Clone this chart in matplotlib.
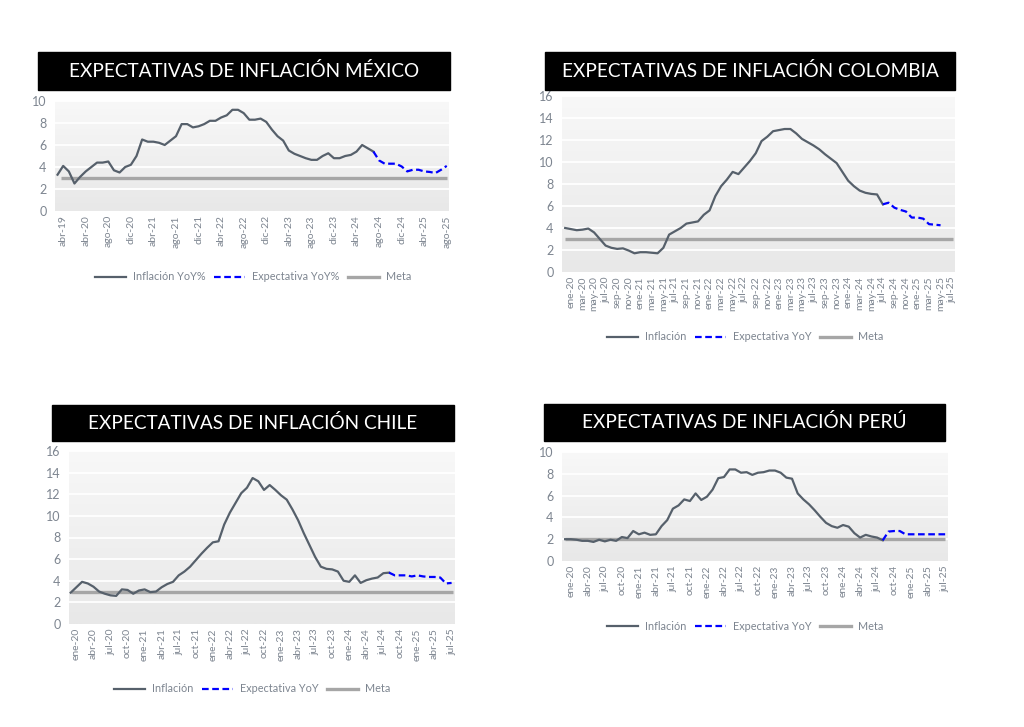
import matplotlib.pyplot as plt
import numpy as np
from matplotlib.patches import Rectangle
from matplotlib.lines import Line2D

plt.rcParams['font.family'] = ['Lato', 'DejaVu Sans']

W, H = 1024, 727

# ---------------- datos ----------------
# México (índice 0 = mes previo a abr-19)
mx_inflacion = [3.3, 4.1, 3.6, 2.5, 3.1, 3.6, 4.0, 4.4, 4.4, 4.5, 3.7, 3.5, 4.0, 4.2, 5.0,
                6.5, 6.3, 6.3, 6.2, 6.0, 6.4, 6.8, 7.9, 7.9, 7.6, 7.7, 7.9, 8.2, 8.2, 8.5,
                8.7, 9.2, 9.2, 8.9, 8.3, 8.3, 8.4, 8.1, 7.4, 6.8, 6.4, 5.5, 5.2, 5.0, 4.8,
                4.65, 4.65, 5.0, 5.25, 4.8, 4.8, 5.0, 5.1, 5.4, 6.0, 5.7, 5.4]
mx_expectativa = [5.4, 4.6, 4.3, 4.3, 4.3, 4.05, 3.6, 3.75, 3.75, 3.6, 3.55, 3.45, 3.75, 4.1]
mx_meta = 3
mx_ticks = ["abr-19", "abr-20", "ago-20", "dic-20", "abr-21", "ago-21", "dic-21", "abr-22",
            "ago-22", "dic-22", "abr-23", "ago-23", "dic-23", "abr-24", "ago-24", "dic-24",
            "abr-25", "ago-25"]

# Colombia (índice 0 = dic-19)
co_inflacion = [4.0, 3.9, 3.8, 3.85, 3.95, 3.6, 3.0, 2.4, 2.2, 2.1,
                2.15, 1.95, 1.7, 1.8, 1.8, 1.75, 1.7, 2.2, 3.4, 3.7,
                4.0, 4.4, 4.5, 4.6, 5.2, 5.6, 6.9, 7.8, 8.4, 9.1,
                8.9, 9.5, 10.1, 10.8, 11.9, 12.3, 12.8, 12.9, 13.0, 13.0,
                12.6, 12.1, 11.8, 11.5, 11.15, 10.7, 10.3, 9.9, 9.1, 8.3,
                7.8, 7.4, 7.2, 7.1, 7.05, 6.15]
co_expectativa = [6.15, 6.3, 5.85, 5.65, 5.5, 4.95, 4.95, 4.85, 4.35, 4.3, 4.25]
co_meta = 3
co_ticks = [m + "-" + a for a in ["20", "21", "22", "23", "24"]
            for m in ["ene", "mar", "may", "jul", "sep", "nov"]] + \
           ["ene-25", "mar-25", "may-25", "jul-25"]

# Chile (índice 0 = dic-19)
cl_inflacion = [2.9, 3.4, 3.9, 3.75, 3.45, 3.0, 2.8, 2.65, 2.6, 3.2,
                3.15, 2.8, 3.1, 3.2, 2.95, 3.0, 3.4, 3.7, 3.9, 4.5,
                4.85, 5.3, 5.9, 6.5, 7.05, 7.55, 7.65, 9.2, 10.3, 11.2,
                12.1, 12.6, 13.5, 13.2, 12.4, 12.85, 12.4, 11.9, 11.5, 10.6,
                9.6, 8.4, 7.3, 6.2, 5.3, 5.1, 5.05, 4.85, 4.0, 3.9,
                4.5, 3.8, 4.05, 4.2, 4.3, 4.7, 4.75]
cl_expectativa = [4.75, 4.5, 4.5, 4.5, 4.4, 4.5, 4.4, 4.35, 4.35, 4.3, 3.75, 3.8]
cl_meta = 3
trimestral = [m + "-" + a for a in ["20", "21", "22", "23", "24"]
              for m in ["ene", "abr", "jul", "oct"]] + ["ene-25", "abr-25", "jul-25"]
cl_ticks = trimestral

# Perú (índice 0 = dic-19)
pe_inflacion = [2.0, 2.0, 1.95, 1.85, 1.85, 1.75, 1.95, 1.8, 1.95, 1.85,
                2.2, 2.1, 2.75, 2.45, 2.6, 2.4, 2.45, 3.2, 3.75, 4.8,
                5.1, 5.65, 5.5, 6.2, 5.6, 5.9, 6.55, 7.6, 7.7, 8.4,
                8.4, 8.1, 8.15, 7.9, 8.1, 8.15, 8.3, 8.3, 8.1, 7.65,
                7.55, 6.2, 5.65, 5.2, 4.65, 4.05, 3.5, 3.2, 3.05, 3.3,
                3.15, 2.55, 2.15, 2.4, 2.25, 2.15, 1.9]
pe_expectativa = [1.9, 2.7, 2.75, 2.75, 2.45, 2.45, 2.45, 2.45, 2.45, 2.45, 2.45, 2.45]
pe_meta = 2
pe_ticks = trimestral

C_INF = '#56606b'
C_EXP = '#0000ff'
C_META = '#a6a6a6'
C_TXT = '#7d8590'


def caja(x0, y0, x1, y1):
    return [x0 / W, 1 - y1 / H, (x1 - x0) / W, (y1 - y0) / H]


def panel(fig, area, titulo, banda, inflacion, expectativa, meta, meta_ini, meta_fin,
          ticks, paso, ymax, ypaso, xlim, etiquetas, ley_centro):
    ax = fig.add_axes(caja(*area))
    # fondo degradado
    grad = np.linspace(0, 1, 100).reshape(-1, 1)
    ax.imshow(grad, extent=[0, 1, 0, 1], transform=ax.transAxes, aspect='auto',
              cmap=plt.matplotlib.colors.LinearSegmentedColormap.from_list(
                  'g', ['#f8f8f8', '#e8e8e8']), zorder=0)
    for y in np.arange(ypaso, ymax + 0.01, ypaso):
        ax.axhline(y, color='white', lw=1.3, zorder=1)

    n = len(inflacion)
    x_inf = np.arange(n)
    x_exp = np.arange(n - 1, n - 1 + len(expectativa))
    ax.plot([meta_ini, meta_fin], [meta, meta], color=C_META, lw=2.4, zorder=2,
            solid_capstyle='butt')
    ax.plot(x_inf, inflacion, color=C_INF, lw=1.6, zorder=3)
    ax.plot(x_exp, expectativa, color=C_EXP, lw=1.6, ls=(0, (3, 1.6)), zorder=3)

    ax.set_xlim(*xlim)
    ax.set_ylim(0, ymax)
    ax.set_yticks(np.arange(0, ymax + 0.01, ypaso))
    ax.set_xticks([1 + paso * k for k in range(len(ticks))])
    ax.set_xticklabels(ticks, rotation=90)
    ax.tick_params(length=0, labelsize=7.5, colors=C_TXT, pad=3)
    ax.tick_params(axis='y', labelsize=9, pad=6)
    for s in ax.spines.values():
        s.set_visible(False)

    # banda de título
    x0, y0, x1, y1 = banda
    fig.patches.append(Rectangle((x0 / W, 1 - y1 / H), (x1 - x0) / W, (y1 - y0) / H,
                                 transform=fig.transFigure, color='black', zorder=5))
    fig.text((x0 + x1) / 2 / W, 1 - (y0 + y1) / 2 / H, titulo, color='white',
             fontsize=13.7, ha='center', va='center', zorder=6)

    handles = [Line2D([], [], color=C_INF, lw=1.6),
               Line2D([], [], color=C_EXP, lw=1.6, ls=(0, (3, 1.6))),
               Line2D([], [], color=C_META, lw=2.4)]
    fig.legend(handles, etiquetas, loc='center',
               bbox_to_anchor=(ley_centro[0] / W, 1 - ley_centro[1] / H),
               ncol=3, frameon=False, fontsize=7.8, labelcolor=C_TXT,
               handlelength=2.9, handletextpad=0.6, columnspacing=0.8)
    return ax


fig = plt.figure(figsize=(W / 100, H / 100), dpi=100)
fig.patch.set_facecolor('white')

panel(fig, (55, 101, 449, 211), 'EXPECTATIVAS DE INFLACIÓN MÉXICO', (38, 52, 450, 90),
      mx_inflacion, mx_expectativa, mx_meta, 0.6, 69, mx_ticks, 4, 10, 2, (-0.45, 69.4),
      ['Inflación YoY%', 'Expectativa YoY%', 'Meta'], (253, 277))

panel(fig, (562, 96, 955, 272), 'EXPECTATIVAS DE INFLACIÓN COLOMBIA', (545, 52, 955, 90),
      co_inflacion, co_expectativa, co_meta, 0, 67.2, co_ticks, 2, 16, 2, (-0.55, 67.5),
      ['Inflación', 'Expectativa YoY', 'Meta'], (745, 337))

panel(fig, (69, 451, 455, 624), 'EXPECTATIVAS DE INFLACIÓN CHILE', (52, 405, 454, 441),
      cl_inflacion, cl_expectativa, cl_meta, 0, 67.2, cl_ticks, 3, 16, 2, (-0.3, 67.6),
      ['Inflación', 'Expectativa YoY', 'Meta'], (252, 689))

panel(fig, (562, 452, 948, 561), 'EXPECTATIVAS DE INFLACIÓN PERÚ', (544, 404, 945, 441),
      pe_inflacion, pe_expectativa, pe_meta, 0, 67.0, pe_ticks, 3, 10, 2, (-0.55, 67.5),
      ['Inflación', 'Expectativa YoY', 'Meta'], (745, 626))

fig.savefig('out.png', dpi=100, facecolor='white')
